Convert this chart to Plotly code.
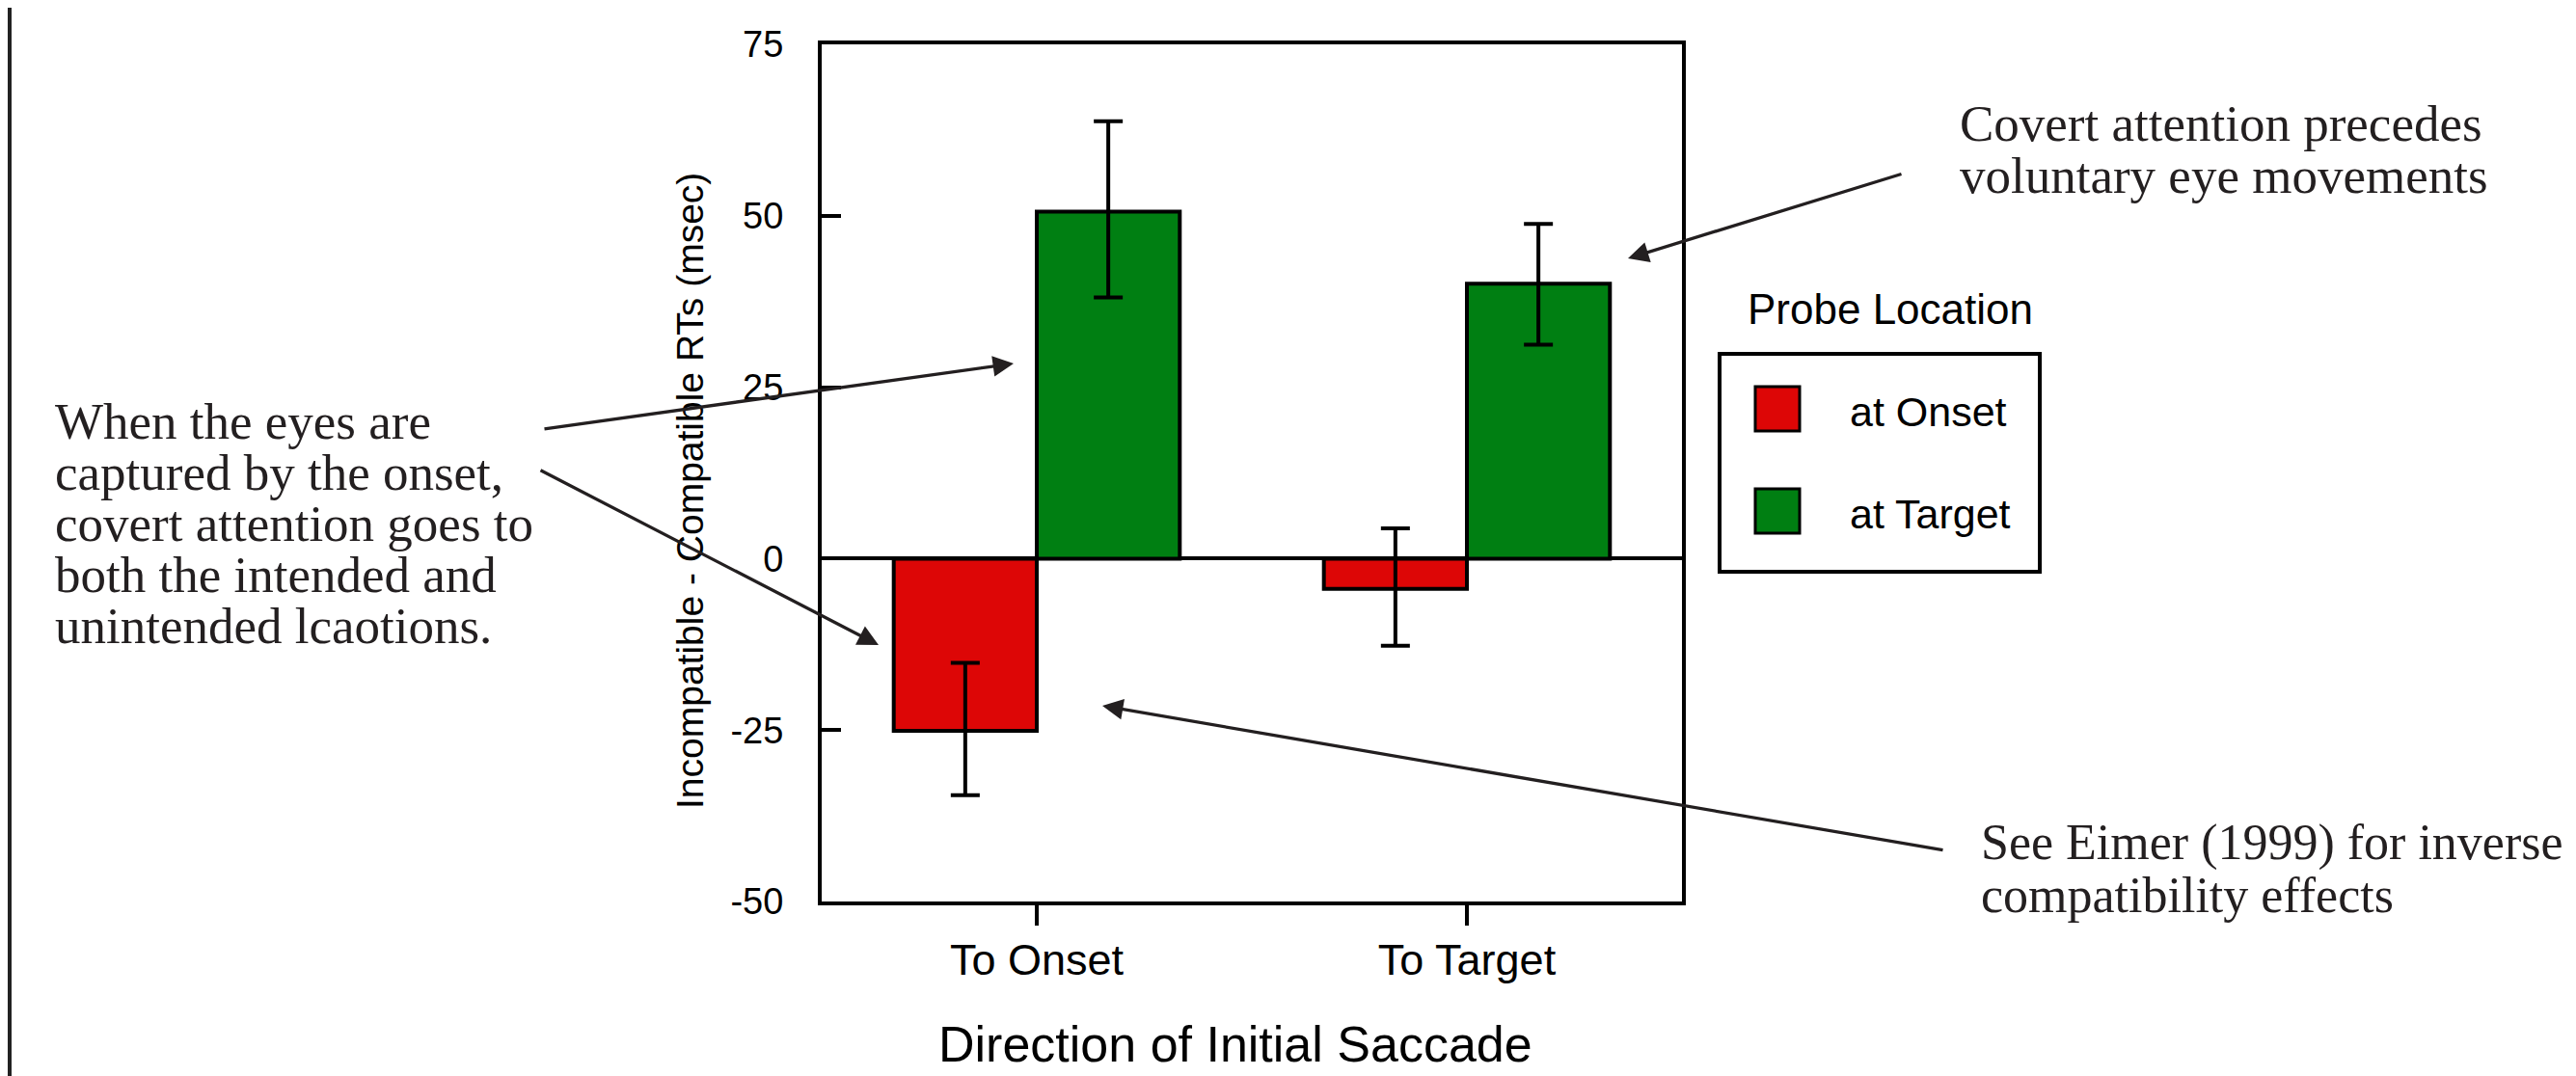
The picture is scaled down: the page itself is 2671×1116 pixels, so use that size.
import plotly.graph_objects as go

# ---------------- data ----------------
categories = ["To Onset", "To Target"]
series_names = ["at Onset", "at Target"]
series_colors = ["#DD0606", "#007F12"]

onset_vals = [-25.1, -4.4]
onset_err_plus = [9.9, 8.8]
onset_err_minus = [9.4, 8.3]

target_vals = [50.6, 40.1]
target_err_plus = [13.2, 8.7]
target_err_minus = [12.5, 8.9]

y_tickvals = [-50, -25, 0, 25, 50, 75]
y_ticktext = ["-50", "-25", "0", "25", "50", "75"]

y_title = "Incompatible - Compatible RTs (msec)"
x_title = "Direction of Initial Saccade"
legend_title = "Probe Location"

note_left = ["When the eyes are", "captured by the onset,", "covert attention goes to",
             "both the intended and", "unintended lcaotions."]
note_top_right = ["Covert attention precedes", "voluntary eye movements"]
note_bottom_right = ["See Eimer (1999) for inverse", "compatibility effects"]

# ---------------- layout geometry (page pixels) ----------------
PAGE_W, PAGE_H = 2671, 1116
OFF = 8                      # default body margin of the html page
W, H = PAGE_W - OFF, PAGE_H - OFF
L, R, T, B = 852, 1744, 46, 935   # plot area in page pixels


def px(x):
    return (x - L) / (R - L)


def py(y):
    return (B - y) / (B - T)


SANS = "Liberation Sans, Arial, sans-serif"
SERIF = "Liberation Serif, Times New Roman, serif"
INK = "#231f20"

fig = go.Figure()
vals = [onset_vals, target_vals]
eplus = [onset_err_plus, target_err_plus]
eminus = [onset_err_minus, target_err_minus]
for i, name in enumerate(series_names):
    fig.add_trace(go.Bar(
        x=categories, y=vals[i], name=name,
        marker=dict(color=series_colors[i], line=dict(color="black", width=4)),
        error_y=dict(type="data", symmetric=False, array=eplus[i], arrayminus=eminus[i],
                     color="black", thickness=4, width=15),
        showlegend=False,
    ))

annotations = []

# axis titles
annotations.append(dict(x=px(716), y=py(509), xref="paper", yref="paper",
                        text=y_title, textangle=-90, showarrow=False,
                        xanchor="center", yanchor="middle",
                        font=dict(family=SANS, size=39, color="black")))
annotations.append(dict(x=px(1281), y=py(1083), xref="paper", yref="paper",
                        text=x_title, showarrow=False,
                        xanchor="center", yanchor="middle",
                        font=dict(family=SANS, size=52, color="black")))


# serif notes, one line per annotation
def add_lines(lines, left, first_center, step, size):
    for k, line in enumerate(lines):
        annotations.append(dict(x=px(left), y=py(first_center + k * step),
                                xref="paper", yref="paper", text=line,
                                showarrow=False, xanchor="left", yanchor="middle",
                                font=dict(family=SERIF, size=size, color=INK)))


add_lines(note_left, 55, 437, 53, 53)
add_lines(note_top_right, 2030, 128, 54, 53)
add_lines(note_bottom_right, 2052, 874, 54, 52)

# arrows: (start_x, start_y, tip_x, tip_y) in page pixels
arrows = [
    (563, 445, 1051, 377),
    (559, 487, 911, 669),
    (1973, 180, 1688, 268),
    (2016, 882, 1143, 732),
]
for sx, sy, tx, ty in arrows:
    annotations.append(dict(x=px(tx), y=py(ty), xref="paper", yref="paper",
                            ax=sx - tx, ay=sy - ty, axref="pixel", ayref="pixel",
                            text="", showarrow=True, arrowhead=2, arrowsize=1.3,
                            arrowwidth=3.3, arrowcolor=INK, standoff=0))

# manual legend
annotations.append(dict(x=px(1810), y=py(320), xref="paper", yref="paper",
                        text=legend_title, showarrow=False, xanchor="left",
                        yanchor="middle", font=dict(family=SANS, size=44, color="black")))
shapes = [
    dict(type="line", xref="paper", yref="paper", x0=px(OFF + 2), x1=px(OFF + 2),
         y0=py(0), y1=py(PAGE_H), line=dict(color="#222222", width=4)),
    dict(type="rect", xref="paper", yref="paper", x0=px(1783), x1=px(2115),
         y0=py(367), y1=py(593), line=dict(color="black", width=4)),
]
for i, name in enumerate(series_names):
    cy = 424 + 106 * i
    shapes.append(dict(type="rect", xref="paper", yref="paper",
                       x0=px(1820), x1=px(1866), y0=py(cy - 23), y1=py(cy + 23),
                       fillcolor=series_colors[i], line=dict(color="black", width=3)))
    annotations.append(dict(x=px(1916), y=py(cy + 3), xref="paper", yref="paper",
                            text=name, showarrow=False, xanchor="left", yanchor="middle",
                            font=dict(family=SANS, size=43, color="black")))

fig.update_layout(
    width=W, height=H,
    margin=dict(l=L - OFF, r=PAGE_W - R, t=T - OFF, b=PAGE_H - B, pad=0),
    paper_bgcolor="white", plot_bgcolor="white",
    barmode="group", bargap=0.335, bargroupgap=0,
    annotations=annotations, shapes=shapes,
    showlegend=False,
)
fig.update_xaxes(
    range=[-0.5, 1.5], showline=True, mirror=True, linecolor="black", linewidth=4,
    ticks="outside", ticklen=21, tickwidth=4, tickcolor="black",
    showgrid=False, zeroline=False,
    tickfont=dict(family=SANS, size=45, color="black"), ticklabelstandoff=-3,
)
fig.update_yaxes(
    range=[-50, 75], showline=True, mirror=True, linecolor="black", linewidth=4,
    ticks="inside", ticklen=20, tickwidth=4, tickcolor="black",
    tickvals=y_tickvals, ticktext=y_ticktext,
    showgrid=False, zeroline=True, zerolinecolor="black", zerolinewidth=4,
    tickfont=dict(family=SANS, size=38, color="black"), ticklabelstandoff=28,
)

fig.write_html("out.html")
